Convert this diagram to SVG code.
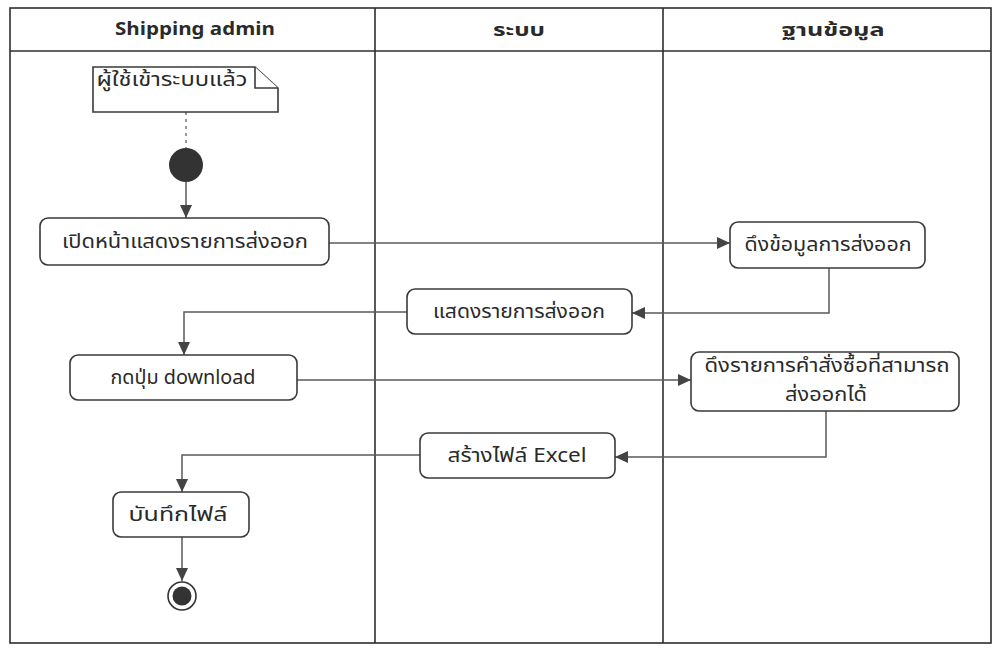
<svg xmlns="http://www.w3.org/2000/svg" width="997" height="648" viewBox="0 0 997 648">
<style>
.lane{fill:none;stroke:#2e2e2e;stroke-width:1.6}
.act{fill:#fff;stroke:#3a3a3a;stroke-width:1.6}
.t{font-family:"Noto Sans Thai","Tahoma","DejaVu Sans","Noto Sans",sans-serif;font-size:19px;fill:#2a2a2a;text-anchor:middle}
.h{font-family:"Noto Sans Thai","Liberation Sans","DejaVu Sans",sans-serif;font-size:18px;font-weight:bold;fill:#2a2a2a;text-anchor:middle}
.c{fill:none;stroke:#5a5a5a;stroke-width:1.5}
</style>
<defs>
<marker id="arr" markerUnits="userSpaceOnUse" markerWidth="14" markerHeight="12" refX="13" refY="6" orient="auto">
<path d="M0,0 L13,6 L0,12 Z" fill="#444"/>
</marker>
</defs>
<rect width="997" height="648" fill="#fff"/>
<g id="lanes">
<rect class="lane" x="10" y="8" width="981" height="635"/>
<line class="lane" x1="10" y1="51" x2="991" y2="51"/>
<line class="lane" x1="375" y1="8" x2="375" y2="643"/>
<line class="lane" x1="663" y1="8" x2="663" y2="643"/>
<text class="h" x="195" y="35" textLength="160" lengthAdjust="spacingAndGlyphs">Shipping admin</text>
<text class="h" x="519" y="36" font-size="21" textLength="52" lengthAdjust="spacingAndGlyphs">ระบบ</text>
<text class="h" x="833" y="36" font-size="21" textLength="103" lengthAdjust="spacingAndGlyphs">ฐานข้อมูล</text>
</g>
<g id="connectors">
<line x1="186" y1="112" x2="186" y2="148" stroke="#777" stroke-width="1.5" stroke-dasharray="3,4"/>
<line class="c" x1="186" y1="182" x2="186" y2="218" marker-end="url(#arr)"/>
<line class="c" x1="329" y1="243" x2="730" y2="243" marker-end="url(#arr)"/>
<polyline class="c" points="829,268 829,313 632,313" marker-end="url(#arr)"/>
<polyline class="c" points="407,312 184,312 184,355" marker-end="url(#arr)"/>
<line class="c" x1="297" y1="380" x2="691" y2="380" marker-end="url(#arr)"/>
<polyline class="c" points="826,411 826,457 615,457" marker-end="url(#arr)"/>
<polyline class="c" points="420,455 182,455 182,492" marker-end="url(#arr)"/>
<line class="c" x1="182" y1="537" x2="182" y2="581" marker-end="url(#arr)"/>
</g>
<g id="note">
<path class="act" d="M93,67 H255 L278,88 V112 H93 Z"/>
<path class="act" d="M255,67 V88 H278" fill="none"/>
<text class="t" x="172" y="86" textLength="151" lengthAdjust="spacingAndGlyphs">ผู้ใช้เข้าระบบแล้ว</text>
</g>
<g id="start">
<circle cx="186" cy="165" r="17" fill="#333"/>
</g>
<g id="a1">
<rect class="act" x="40" y="218" width="289" height="47" rx="8"/>
<text class="t" x="185" y="248" textLength="246" lengthAdjust="spacingAndGlyphs">เปิดหน้าแสดงรายการส่งออก</text>
</g>
<g id="a2">
<rect class="act" x="730" y="222" width="195" height="46" rx="8"/>
<text class="t" x="828" y="251" textLength="167" lengthAdjust="spacingAndGlyphs">ดึงข้อมูลการส่งออก</text>
</g>
<g id="a3">
<rect class="act" x="407" y="289" width="225" height="45" rx="8"/>
<text class="t" x="519" y="318" textLength="172" lengthAdjust="spacingAndGlyphs">แสดงรายการส่งออก</text>
</g>
<g id="a4">
<rect class="act" x="70" y="355" width="227" height="45" rx="8"/>
<text class="t" x="183" y="384" textLength="145" lengthAdjust="spacingAndGlyphs">กดปุ่ม download</text>
</g>
<g id="a5">
<rect class="act" x="691" y="352" width="268" height="59" rx="8"/>
<text class="t" x="827" y="372" font-size="17" textLength="245" lengthAdjust="spacingAndGlyphs">ดึงรายการคำสั่งซื้อที่สามารถ</text>
<text class="t" x="826" y="401" font-size="17" textLength="82" lengthAdjust="spacingAndGlyphs">ส่งออกได้</text>
</g>
<g id="a6">
<rect class="act" x="420" y="433" width="195" height="45" rx="8"/>
<text class="t" x="517" y="462" textLength="139" lengthAdjust="spacingAndGlyphs">สร้างไฟล์ Excel</text>
</g>
<g id="a7">
<rect class="act" x="113" y="492" width="136" height="45" rx="8"/>
<text class="t" x="178" y="521" textLength="99" lengthAdjust="spacingAndGlyphs">บันทึกไฟล์</text>
</g>
<g id="end">
<circle cx="182" cy="596" r="14" fill="#fff" stroke="#333" stroke-width="1.6"/>
<circle cx="182" cy="596" r="9.5" fill="#333"/>
</g>
</svg>
